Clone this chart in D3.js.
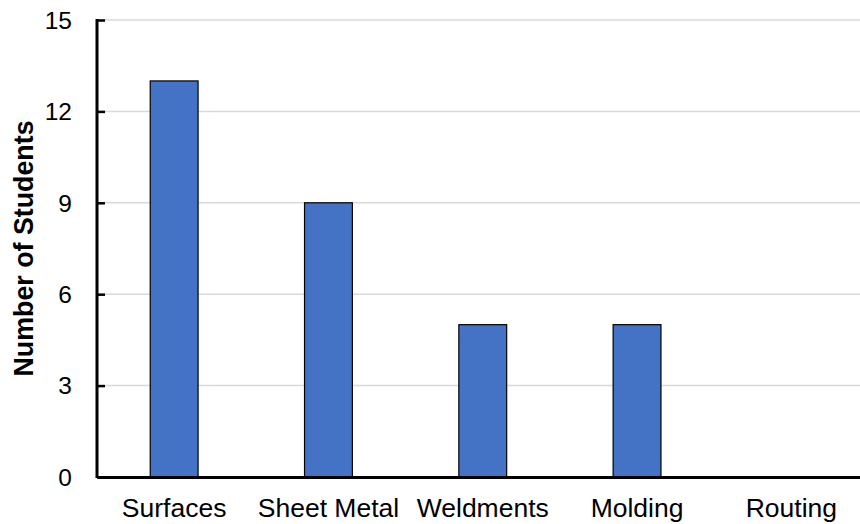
<!DOCTYPE html>
<html>
<head>
<meta charset="utf-8">
<script src="https://cdn.jsdelivr.net/npm/d3@7"></script>
<style>
  html, body { margin: 0; padding: 0; background: #fff; }
  svg { display: block; }
  text { font-family: "Liberation Sans", Arial, sans-serif; fill: #000; }
</style>
</head>
<body>
<svg id="chart" width="860" height="524"></svg>
<script>
// Students per CAD module
const categories = ["Surfaces", "Sheet Metal", "Weldments", "Molding", "Routing"];
const students = [13, 9, 5, 5, 0];
const yTicks = [0, 3, 6, 9, 12, 15];
const yTitle = "Number of Students";

const svg = d3.select("#chart");
const margin = { left: 97, top: 20, bottom: 47 };
const plotH = 524 - margin.top - margin.bottom;
const step = 154.3;
const plotRight = margin.left + step * categories.length;

const x = d3.scaleBand()
  .domain(categories)
  .range([margin.left, plotRight])
  .paddingInner(0.69)
  .paddingOuter(0.345);

const y = d3.scaleLinear()
  .domain([0, 15])
  .range([margin.top + plotH, margin.top]);

// horizontal gridlines
svg.append("g")
  .selectAll("line")
  .data(yTicks.filter(d => d > 0))
  .join("line")
  .attr("x1", margin.left)
  .attr("x2", plotRight)
  .attr("y1", d => y(d))
  .attr("y2", d => y(d))
  .attr("stroke", "#d9d9d9")
  .attr("stroke-width", 1.5);

// bars
svg.append("g")
  .selectAll("rect")
  .data(categories.map((c, i) => ({ c, v: students[i] })).filter(d => d.v > 0))
  .join("rect")
  .attr("x", d => x(d.c))
  .attr("y", d => y(d.v))
  .attr("width", x.bandwidth())
  .attr("height", d => y(0) - y(d.v))
  .attr("fill", "#4472c4")
  .attr("stroke", "#000")
  .attr("stroke-width", 1.2);

// y axis with inward ticks
const yAxis = svg.append("g")
  .attr("transform", `translate(${margin.left},0)`)
  .call(d3.axisRight(y).tickValues(yTicks).tickSize(8).tickFormat(""));
yAxis.select(".domain").remove();
yAxis.selectAll(".tick line").attr("stroke", "#000").attr("stroke-width", 2.5);
yAxis.append("line")
  .attr("x1", 0).attr("x2", 0)
  .attr("y1", y(15) - 1).attr("y2", y(0) + 1)
  .attr("stroke", "#000").attr("stroke-width", 3);

svg.append("g")
  .selectAll("text")
  .data(yTicks)
  .join("text")
  .attr("x", 72)
  .attr("y", d => y(d))
  .attr("dy", "0.36em")
  .attr("text-anchor", "end")
  .attr("font-size", 24.5)
  .text(d => d);

// x axis
const xAxis = svg.append("g")
  .attr("transform", `translate(0,${y(0)})`)
  .call(d3.axisBottom(x).tickSize(0));
xAxis.select(".domain")
  .attr("stroke", "#000").attr("stroke-width", 3);
xAxis.selectAll(".tick text")
  .attr("y", 40)
  .attr("dy", 0)
  .attr("font-size", 26.5)
  .style("font-family", "'Liberation Sans', Arial, sans-serif")
  .attr("fill", "#000");

// y title
svg.append("text")
  .attr("transform", `translate(32.5,248.5) rotate(-90)`)
  .attr("text-anchor", "middle")
  .attr("font-size", 26.8)
  .attr("font-weight", "bold")
  .text(yTitle);
</script>
</body>
</html>
